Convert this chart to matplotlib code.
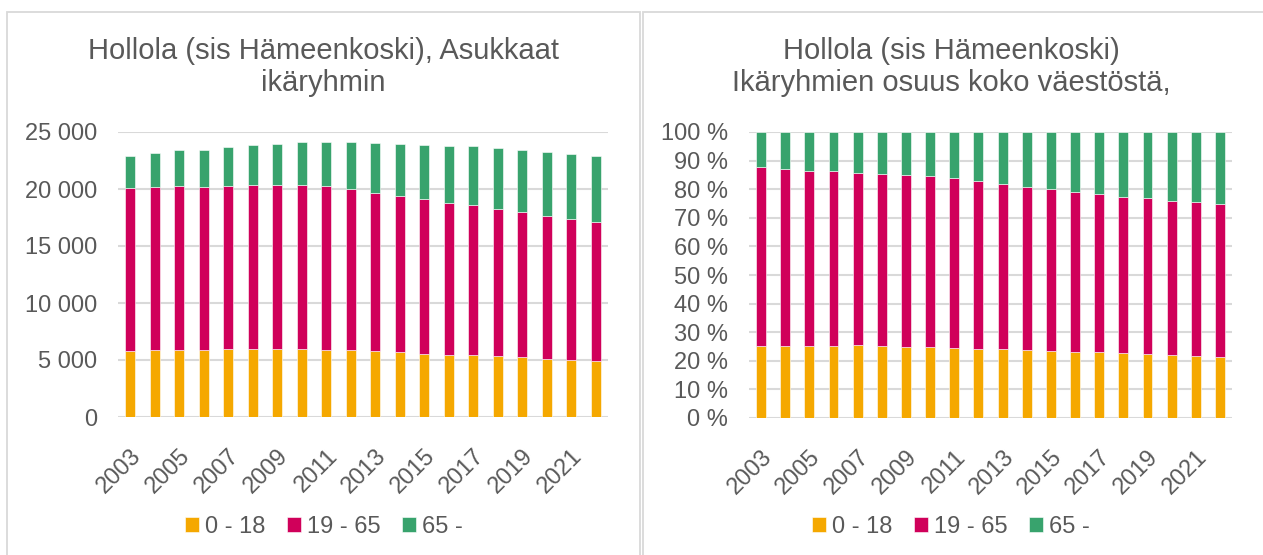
import matplotlib
matplotlib.use("Agg")
import matplotlib.pyplot as plt
import numpy as np
from matplotlib.patches import Rectangle

plt.rcParams["font.family"] = ["Liberation Sans", "DejaVu Sans"]

years = list(range(2003, 2023))
age_0_18 = [5796, 5855, 5913, 5913, 6001, 6001, 5943, 5943, 5913, 5855,
            5767, 5679, 5562, 5474, 5474, 5386, 5240, 5123, 5035, 4889]
age_19_65 = [14286, 14315, 14315, 14286, 14257, 14374, 14403, 14403, 14345, 14168,
             13905, 13700, 13554, 13320, 13144, 12881, 12734, 12529, 12354, 12236]
age_65_up = [2840, 2956, 3162, 3220, 3395, 3483, 3600, 3746, 3864, 4099,
             4391, 4596, 4772, 5006, 5152, 5328, 5416, 5562, 5679, 5797]
series_labels = ["0 - 18", "19 - 65", "65 -"]
colors = ["#F5A800", "#D0005A", "#38A36D"]

left_title = "Hollola (sis Hämeenkoski), Asukkaat\nikäryhmin"
right_title = "Hollola (sis Hämeenkoski)\nIkäryhmien osuus koko väestöstä,"

TEXT = "#595959"
GRID = "#D9D9D9"
W, H = 1263, 555

fig = plt.figure(figsize=(W / 100, H / 100), dpi=100)


def px_axes(x0, y0, x1, y1):
    return fig.add_axes([x0 / W, 1 - y1 / H, (x1 - x0) / W, (y1 - y0) / H])


# panel frames
for x0, x1 in ((7, 640), (643, 1275)):
    fig.patches.append(Rectangle((x0 / W, -0.1), (x1 - x0) / W, 1 - 12 / H + 0.1,
                                 transform=fig.transFigure, fill=False,
                                 edgecolor="#D9D9D9", linewidth=1.3))


def stacked(ax, data):
    x = np.arange(len(years))
    bottom = np.zeros(len(years))
    handles = []
    for vals, col, lab in zip(data, colors, series_labels):
        h = ax.bar(x, vals, 0.41, bottom=bottom, color=col, label=lab,
                   edgecolor="white", linewidth=0.4, zorder=3)
        bottom += np.asarray(vals, dtype=float)
        handles.append(h)
    ax.set_xlim(-0.5, len(years) - 0.5)
    ax.set_xticks(x[::2])
    ax.set_xticklabels([str(y) for y in years[::2]], rotation=45, ha="right",
                       rotation_mode="anchor", color=TEXT, fontsize=17)
    ax.tick_params(axis="both", length=0, labelsize=17, labelcolor=TEXT)
    ax.tick_params(axis="y", pad=15)
    ax.tick_params(axis="x", pad=20)
    ax.grid(axis="y", color=GRID, linewidth=1.5, zorder=0)
    for s in ax.spines.values():
        s.set_visible(False)
    return handles


def add_legend(handles, cx):
    fig.legend(handles, series_labels, loc="center", bbox_to_anchor=(cx / W, 1 - 527 / H),
               ncol=3, frameon=False, fontsize=17, labelcolor=TEXT, handlelength=0.6,
               handleheight=0.6, handletextpad=0.25, columnspacing=0.9)


# left: absolute counts
ax1 = px_axes(118, 132, 608, 417)
h = stacked(ax1, [age_0_18, age_19_65, age_65_up])
ax1.set_ylim(0, 25000)
ax1.set_yticks(np.arange(0, 25001, 5000))
ax1.set_yticklabels([f"{v:,}".replace(",", " ") for v in range(0, 25001, 5000)])
fig.text(323 / W, 1 - 67 / H, left_title, ha="center", va="center", fontsize=21,
         color=TEXT, linespacing=1.2)
add_legend(h, 324)

# right: shares
totals = np.array(age_0_18) + np.array(age_19_65) + np.array(age_65_up)
shares = [np.array(s) / totals * 100 for s in (age_0_18, age_19_65, age_65_up)]
ax2 = px_axes(749, 132, 1232, 418)
h = stacked(ax2, shares)
ax2.set_ylim(0, 100)
ax2.set_yticks(np.arange(0, 101, 10))
ax2.set_yticklabels([f"{v} %" for v in range(0, 101, 10)])
fig.text(951 / W, 1 - 67 / H, right_title, ha="center", va="center", fontsize=21,
         color=TEXT, linespacing=1.2)
add_legend(h, 951)

fig.savefig("out.png", dpi=100, facecolor="white")
